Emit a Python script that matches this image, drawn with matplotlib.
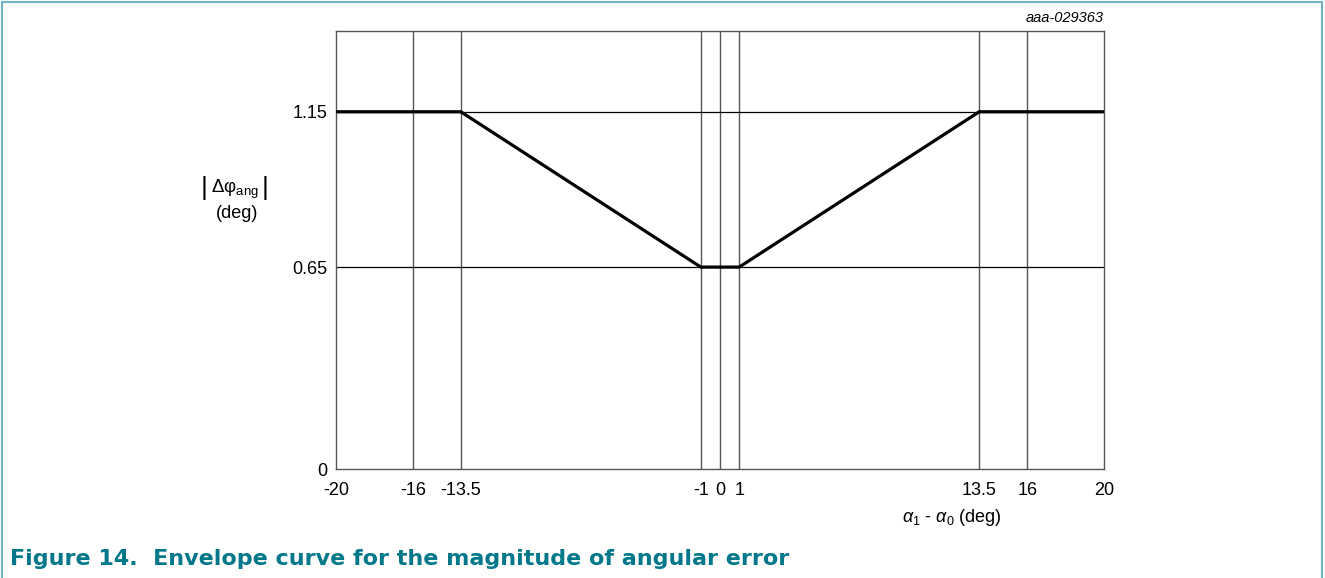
import matplotlib.pyplot as plt
from matplotlib.lines import Line2D

# Datos
x_env = [-20, -13.5, -1, 1, 13.5, 20]
y_env = [1.15, 1.15, 0.65, 0.65, 1.15, 1.15]
x_ticks = [-20, -16, -13.5, -1, 0, 1, 13.5, 16, 20]
x_labels = ["-20", "-16", "-13.5", "-1", "0", "1", "13.5", "16", "20"]
y_ticks = [0, 0.65, 1.15]
y_labels = ["0", "0.65", "1.15"]

plt.rcParams['font.family'] = ['Liberation Sans', 'DejaVu Sans']
plt.rcParams['mathtext.fontset'] = 'custom'
plt.rcParams['mathtext.rm'] = 'Liberation Sans'
plt.rcParams['mathtext.it'] = 'Liberation Sans:italic'

fig = plt.figure(figsize=(13.25, 5.78), dpi=100)
ax = fig.add_axes([336 / 1325, 109 / 578, 768 / 1325, 438 / 578])

# Rejilla
for xv in x_ticks[1:-1]:
    ax.axvline(xv, color='#555555', linewidth=1.0, zorder=1)
for yv in y_ticks[1:]:
    ax.axhline(yv, color='black', linewidth=0.9, zorder=1)

# Curva
ax.plot(x_env, y_env, color='black', linewidth=2.3, zorder=3, solid_joinstyle='miter')

ax.set_xlim(-20, 20)
ax.set_ylim(0, 1.41)
ax.set_xticks(x_ticks)
ax.set_xticklabels(x_labels, fontsize=13)
ax.set_yticks(y_ticks)
ax.set_yticklabels(y_labels, fontsize=13)
ax.tick_params(axis='x', length=0, pad=9.5)
ax.tick_params(axis='y', length=0, pad=6)
for s in ax.spines.values():
    s.set_color('#555555')
    s.set_linewidth(1.0)

# Etiquetas de ejes
fig.text(952 / 1325, 1 - 518 / 578, r'$\alpha_1$ - $\alpha_0$ (deg)', fontsize=13,
         ha='center', va='center')
fig.text(235 / 1325, 1 - 189 / 578, r'$\Delta\mathrm{φ}_{\mathrm{ang}}$', fontsize=13.5,
         ha='center', va='center')
fig.text(204 / 1325, 1 - 188 / 578, '|', fontsize=19, ha='center', va='center')
fig.text(265 / 1325, 1 - 188 / 578, '|', fontsize=19, ha='center', va='center')
fig.text(237 / 1325, 1 - 213 / 578, '(deg)', fontsize=13, ha='center', va='center')
fig.text(1104 / 1325, 1 - 18 / 578, 'aaa-029363', fontsize=10.5, style='italic',
         ha='right', va='center')

# Título
fig.text(10 / 1325, 1 - 559 / 578, 'Figure 14.  Envelope curve for the magnitude of angular error',
         fontsize=16, fontweight='bold', color='#00788a',
         family=['DejaVu Sans'], ha='left', va='center')

# Marco
fig.add_artist(Line2D([2 / 1325, 2 / 1325], [0, 1 - 2 / 578], transform=fig.transFigure,
                      color='#6fb3c4', linewidth=1.5))
fig.add_artist(Line2D([2 / 1325, 1322 / 1325], [1 - 2 / 578, 1 - 2 / 578], transform=fig.transFigure,
                      color='#6fb3c4', linewidth=1.5))
fig.add_artist(Line2D([1322 / 1325, 1322 / 1325], [0, 1 - 2 / 578], transform=fig.transFigure,
                      color='#6fb3c4', linewidth=1.5))

fig.savefig('out.png', dpi=100)
